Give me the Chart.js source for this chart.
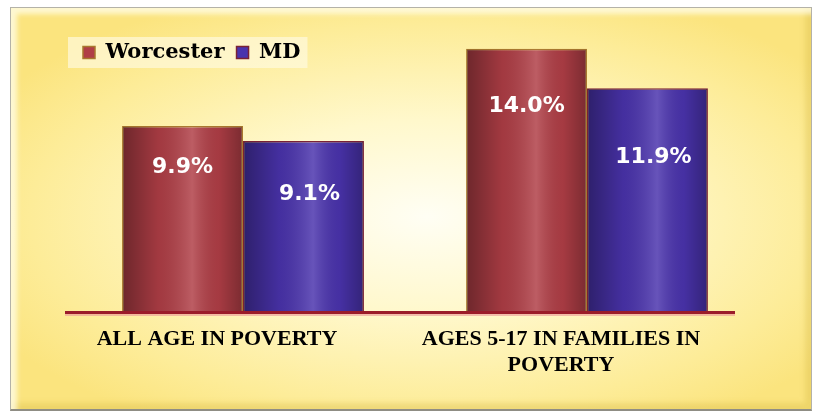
<!DOCTYPE html>
<html>
<head>
<meta charset="utf-8">
<script src="https://cdn.jsdelivr.net/npm/chart.js@4/dist/chart.umd.min.js"></script>
<style>
  html, body { margin: 0; padding: 0; background: #fff; }
  #wrap { position: relative; width: 817px; height: 416px; }
  #frame {
    position: absolute; left: 10px; top: 7px; width: 800px; height: 401px;
    border: 1px solid #b4b2a8;
    border-bottom: 2px solid #8f8d84;
    background: radial-gradient(ellipse 62% 60% at 52% 52%, #fffef4 0%, #fff8cc 40%, #fdec98 80%, #fbe47e 100%);
    box-shadow: inset 6px 6px 5px rgba(255,252,230,0.8), inset -6px -6px 5px rgba(215,185,70,0.35);
  }
  #chart { position: absolute; left: 0; top: 0; }
</style>
</head>
<body>
<div id="wrap">
  <div id="frame"></div>
  <canvas id="chart" width="817" height="416"></canvas>
</div>
<script>
// donnees
const categories = [['ALL AGE IN POVERTY'], ['AGES 5-17 IN FAMILIES IN', 'POVERTY']]
const worcester = [9.9, 14.0]
const md = [9.1, 11.9]

const ctx = document.getElementById('chart')

// legende en ligne dans la zone du graphe + fond clair
const legendBack = {
  id: 'legendBack',
  afterInit(chart) {
    chart.legend.isHorizontal = () => true
  },
  afterLayout(chart) {
    const lg = chart.legend
    const a = chart.chartArea
    lg.left = a.left
    lg.right = a.left + lg.width
    ;(lg.legendHitBoxes || []).forEach(h => { h.left += a.left })
  },
  beforeDraw(chart) {
    const boxes = chart.legend.legendHitBoxes
    if (!boxes || !boxes.length) return
    const c = chart.ctx
    const first = boxes[0], last = boxes[boxes.length - 1]
    c.save()
    c.fillStyle = 'rgba(255,250,228,0.65)'
    c.fillRect(first.left - 15, first.top - 5, last.left + last.width - first.left + 22, first.height + 10)
    c.restore()
  }
}

// effet cylindre + etiquettes + ligne de base
const barDeco = {
  id: 'barDeco',
  afterDatasetsDraw(chart) {
    const c = chart.ctx
    const area = chart.chartArea
    chart.data.datasets.forEach((ds, di) => {
      const meta = chart.getDatasetMeta(di)
      meta.data.forEach((el, i) => {
        const l = el.x - el.width / 2, r = el.x + el.width / 2
        const g = c.createLinearGradient(l, 0, r, 0)
        g.addColorStop(0, 'rgba(0,0,0,0.38)')
        g.addColorStop(0.3, 'rgba(0,0,0,0.08)')
        g.addColorStop(0.58, 'rgba(255,255,255,0.16)')
        g.addColorStop(0.8, 'rgba(0,0,0,0.06)')
        g.addColorStop(1, 'rgba(0,0,0,0.3)')
        c.save()
        c.fillStyle = g
        c.fillRect(l + 1, el.y + 1, el.width - 2, el.base - el.y - 1)
        c.restore()

        c.save()
        c.fillStyle = '#ffffff'
        c.font = 'bold 22px "DejaVu Sans"'
        c.textAlign = 'center'
        c.textBaseline = 'middle'
        const y = el.y + (el.base - el.y) * ds.labelPos
        c.fillText(ds.data[i].toFixed(1) + '%', el.x + ds.labelShift, y)
        c.restore()
      })
    })
    c.save()
    c.strokeStyle = 'rgba(235,150,150,0.6)'
    c.lineWidth = 2
    c.beginPath()
    c.moveTo(area.left - 6, area.bottom + 3)
    c.lineTo(area.right - 24, area.bottom + 3)
    c.stroke()
    c.strokeStyle = '#9b1c2a'
    c.lineWidth = 3
    c.beginPath()
    c.moveTo(area.left - 6, area.bottom + 0.5)
    c.lineTo(area.right - 24, area.bottom + 0.5)
    c.stroke()
    c.restore()
  }
}

const chart = new Chart(ctx, {
  type: 'bar',
  data: {
    labels: categories,
    datasets: [
      {
        label: 'Worcester',
        data: worcester,
        backgroundColor: '#b03e46',
        borderColor: '#a9782e',
        borderWidth: 1.5,
        borderSkipped: 'bottom',
        labelPos: 0.22,
        labelShift: 0
      },
      {
        label: 'MD',
        data: md,
        backgroundColor: '#4a33ad',
        borderColor: '#7a2234',
        borderWidth: 1.5,
        borderSkipped: 'bottom',
        labelPos: 0.31,
        labelShift: 6
      }
    ]
  },
  options: {
    responsive: false,
    maintainAspectRatio: false,
    animation: false,
    layout: { padding: { left: 71, right: 58, top: 30, bottom: 0 } },
    datasets: {
      bar: { barPercentage: 1, categoryPercentage: 0.703 }
    },
    scales: {
      x: {
        grid: { display: false },
        border: { display: false },
        afterFit: (s) => { s.height = 104 },
        ticks: {
          color: '#000',
          autoSkip: false,
          maxRotation: 0,
          padding: 6,
          labelOffset: -26,
          font: { family: '"Liberation Serif"', weight: 'bold', size: 22, lineHeight: 1.2 }
        }
      },
      y: {
        display: false,
        min: 0,
        max: 15
      }
    },
    plugins: {
      tooltip: { enabled: false },
      legend: {
        position: 'chartArea',
        align: 'start',
        labels: {
          color: '#000',
          boxWidth: 12,
          boxHeight: 12,
          padding: 12,
          font: { family: '"DejaVu Serif"', weight: 'bold', size: 21 }
        }
      }
    }
  },
  plugins: [legendBack, barDeco]
})
</script>
</body>
</html>
